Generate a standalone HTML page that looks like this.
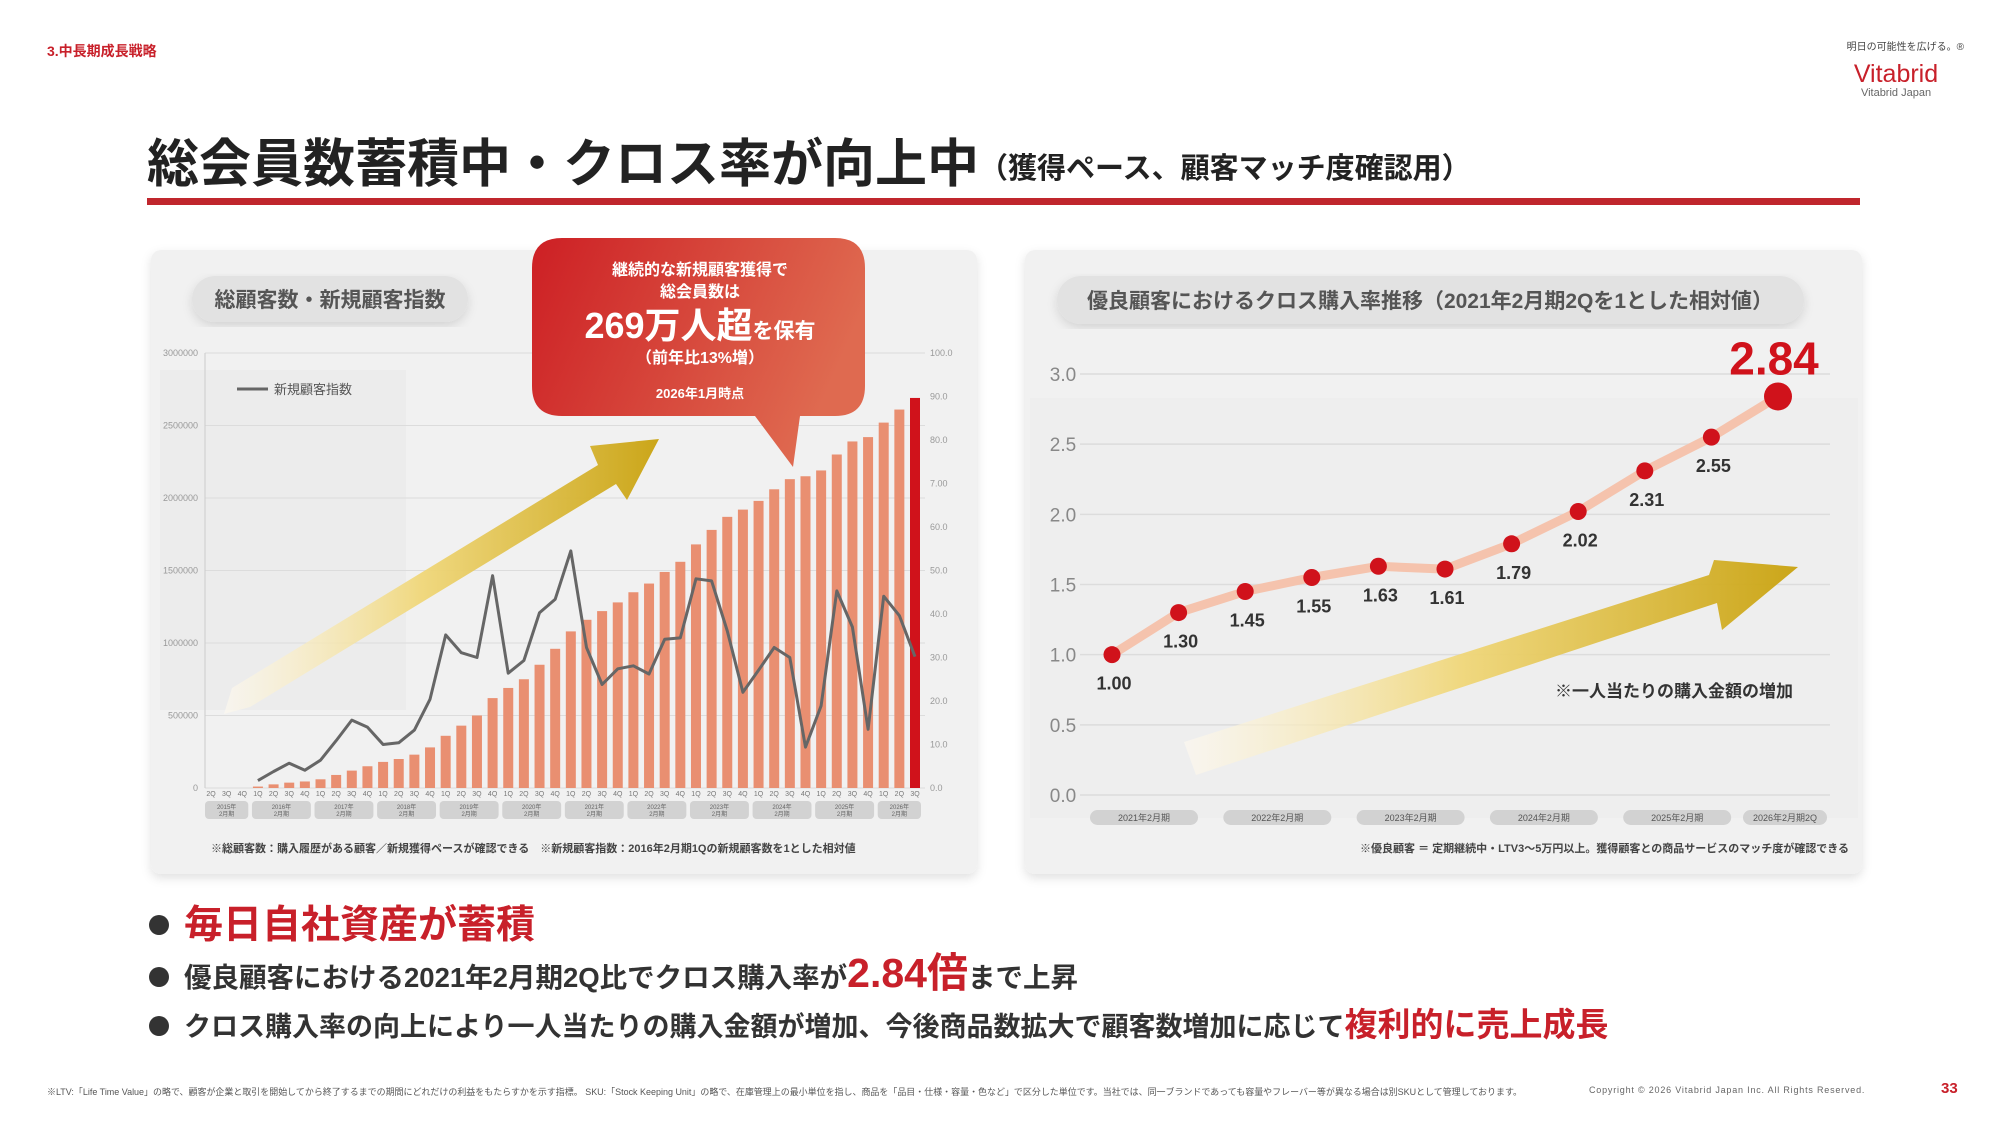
<!DOCTYPE html>
<html><head><meta charset="utf-8">
<style>
html,body{margin:0;padding:0;background:#fff;}
body{width:2000px;height:1138px;overflow:hidden;position:relative;font-family:"Liberation Sans","Noto Sans CJK JP",sans-serif;}
svg text{font-family:"Liberation Sans","Noto Sans CJK JP",sans-serif;}
</style></head>
<body>
<svg id="page" width="2000" height="1138" viewBox="0 0 2000 1138" xmlns="http://www.w3.org/2000/svg">
<defs>
<linearGradient id="gold" x1="0" y1="0" x2="1" y2="0">
<stop offset="0" stop-color="#fffaf0" stop-opacity="0.6"/>
<stop offset="0.45" stop-color="#f0d77a"/>
<stop offset="1" stop-color="#c9a20e"/>
</linearGradient>
<linearGradient id="bubble" x1="0" y1="0" x2="1" y2="0.3">
<stop offset="0" stop-color="#cd1f24"/>
<stop offset="1" stop-color="#df6a50"/>
</linearGradient>
<filter id="sh" x="-5%" y="-5%" width="110%" height="115%"><feDropShadow dx="0" dy="4" stdDeviation="5" flood-color="#000" flood-opacity="0.12"/></filter>
</defs>

<text x="47" y="56" font-size="14" font-weight="bold" fill="#c8202a">3.中長期成長戦略</text>
<g>
<text x="1964" y="50" font-size="10" fill="#444" text-anchor="end">明日の可能性を広げる。®</text>
<text x="1896" y="82" font-size="25" fill="#c8202a" text-anchor="middle">Vitabrid</text>
<text x="1896" y="96" font-size="11" fill="#666" text-anchor="middle">Vitabrid Japan</text>
</g>

<text x="147" y="182" font-size="52" font-weight="bold" fill="#222">総会員数蓄積中・クロス率が向上中<tspan font-size="29" dy="-4">（獲得ペース、顧客マッチ度確認用）</tspan></text>
<rect x="147" y="198" width="1713" height="7" fill="#c0262d"/>

<!-- Left panel -->
<rect x="151" y="250" width="826" height="624" rx="10" fill="#f1f1f1" filter="url(#sh)"/>
<rect x="160" y="370" width="246" height="340" fill="#e9e9e9" opacity="0.7"/>
<rect x="192" y="276" width="276" height="46" rx="23" fill="#e2e2e2" filter="url(#sh)"/>
<text x="330" y="307" font-size="21" font-weight="bold" fill="#555" text-anchor="middle">総顧客数・新規顧客指数</text>
<g id="leftChart"></g>

<!-- Bubble -->
<g>
<path d="M562,238 H835 Q865,238 865,268 V386 Q865,416 835,416 H800 L793,467 L755,416 H562 Q532,416 532,386 V268 Q532,238 562,238 Z" fill="url(#bubble)"/>
<text x="700" y="275" font-size="16" font-weight="bold" fill="#fff" text-anchor="middle">継続的な新規顧客獲得で</text>
<text x="700" y="297" font-size="16" font-weight="bold" fill="#fff" text-anchor="middle">総会員数は</text>
<text x="700" y="338" font-size="36" font-weight="bold" fill="#fff" text-anchor="middle">269万人超<tspan font-size="21">を保有</tspan></text>
<text x="700" y="363" font-size="16" font-weight="bold" fill="#fff" text-anchor="middle">（前年比13%増）</text>
<text x="700" y="398" font-size="13" font-weight="bold" fill="#fff" text-anchor="middle">2026年1月時点</text>
</g>

<!-- Right panel -->
<rect x="1025" y="250" width="837" height="624" rx="10" fill="#f1f1f1" filter="url(#sh)"/>
<rect x="1030" y="398" width="828" height="420" fill="#ececec" opacity="0.6"/>
<rect x="1057" y="276" width="747" height="48" rx="24" fill="#e2e2e2" filter="url(#sh)"/>
<text x="1430" y="308" font-size="21" font-weight="bold" fill="#555" text-anchor="middle">優良顧客におけるクロス購入率推移（2021年2月期2Qを1とした相対値）</text>
<g id="rightChart"></g>

<!-- Bullets -->
<g>
<circle cx="159" cy="925" r="10" fill="#333"/>
<text x="184" y="938" font-size="39" font-weight="bold" fill="#c8202a">毎日自社資産が蓄積</text>
<circle cx="159" cy="977" r="10" fill="#333"/>
<text x="184" y="987" font-size="27.5" font-weight="bold" fill="#333">優良顧客における2021年2月期2Q比でクロス購入率が<tspan font-size="41" fill="#c8202a">2.84倍</tspan>まで上昇</text>
<circle cx="159" cy="1026" r="10" fill="#333"/>
<text x="184" y="1036" font-size="27" font-weight="bold" fill="#333">クロス購入率の向上により一人当たりの購入金額が増加、今後商品数拡大で顧客数増加に応じて<tspan font-size="33" fill="#c8202a">複利的に売上成長</tspan></text>
</g>

<text x="47" y="1095" font-size="9" fill="#555" textLength="1475" lengthAdjust="spacingAndGlyphs">※LTV:「Life Time Value」の略で、顧客が企業と取引を開始してから終了するまでの期間にどれだけの利益をもたらすかを示す指標。 SKU:「Stock Keeping Unit」の略で、在庫管理上の最小単位を指し、商品を「品目・仕様・容量・色など」で区分した単位です。当社では、同一ブランドであっても容量やフレーバー等が異なる場合は別SKUとして管理しております。</text>
<text x="1589" y="1093" font-size="9" fill="#666" letter-spacing="0.8">Copyright © 2026 Vitabrid Japan Inc. All Rights Reserved.</text>
<text x="1941" y="1093" font-size="15" font-weight="bold" fill="#c8202a">33</text>
</svg>

<script>
// ---- Left chart data ----
const quarters = ["2Q","3Q","4Q","1Q","2Q","3Q","4Q","1Q","2Q","3Q","4Q","1Q","2Q","3Q","4Q","1Q","2Q","3Q","4Q","1Q","2Q","3Q","4Q","1Q","2Q","3Q","4Q","1Q","2Q","3Q","4Q","1Q","2Q","3Q","4Q","1Q","2Q","3Q","4Q","1Q","2Q","3Q","4Q","1Q","2Q","3Q"];
const fiscalYears = ["2015年","2016年","2017年","2018年","2019年","2020年","2021年","2022年","2023年","2024年","2025年","2026年"];
const yearSpans = [3,4,4,4,4,4,4,4,4,4,4,3];
const totalCustomers = [0,0,0,10000,25000,37000,45000,60000,90000,120000,150000,180000,200000,230000,280000,360000,430000,500000,620000,690000,750000,850000,960000,1080000,1160000,1220000,1280000,1350000,1410000,1490000,1560000,1680000,1780000,1870000,1920000,1980000,2060000,2130000,2150000,2190000,2300000,2390000,2420000,2520000,2610000,2690000];
const newIndex = [null,null,null,1.7,3.8,5.7,4.1,6.4,10.9,15.6,14.0,10.0,10.4,13.3,20.4,35.2,31.1,30.0,48.8,26.4,29.3,40.3,43.4,54.5,32.3,23.8,27.4,28.1,26.2,34.2,34.5,48.1,47.6,36.1,22.0,27.1,32.3,30.0,9.4,18.9,45.3,37.0,13.5,44.1,39.6,30.2];
const leftTicks = ["0","500000","1000000","1500000","2000000","2500000","3000000"];
const rightTicks = ["0.0","10.0","20.0","30.0","40.0","50.0","60.0","7.00","80.0","90.0","100.0"];

// ---- Right chart data ----
const crossValues = [1.00,1.30,1.45,1.55,1.63,1.61,1.79,2.02,2.31,2.55,2.84];
const crossYTicks = ["0.0","0.5","1.0","1.5","2.0","2.5","3.0"];
const crossYears = ["2021年2月期","2022年2月期","2023年2月期","2024年2月期","2025年2月期","2026年2月期2Q"];

const NS="http://www.w3.org/2000/svg";
function mk(parent,tag,attrs,txt){const e=document.createElementNS(NS,tag);for(const k in attrs)e.setAttribute(k,attrs[k]);if(txt!==undefined)e.textContent=txt;parent.appendChild(e);return e;}

// Left chart
(function(){
const g=document.getElementById('leftChart');
const x0=211, dx=(915-211)/(quarters.length-1);
const yTop=353, yBot=788;
const xs=i=>x0+i*dx;
const yL=v=>yBot-(v/3000000)*(yBot-yTop);
const yR=v=>yBot-(v/100)*(yBot-yTop);
leftTicks.forEach((t,i)=>{
  const v=i*500000;
  const ln=mk(g,'line',{x1:205,x2:925,y1:yL(v),y2:yL(v),stroke:'#dcdcdc','stroke-width':1});
  
  
  const tx=mk(g,'text',{x:198,y:yL(v)+3,'font-size':9,fill:'#999','text-anchor':'end'},t);
  
  
});
mk(g,'line',{x1:205,x2:205,y1:yTop,y2:yBot,stroke:'#ccc','stroke-width':1});
rightTicks.forEach((t,i)=>{
  const tx=mk(g,'text',{x:930,y:yR(i*10)+3,'font-size':9,fill:'#999'},t);
  
  
});
const ar=mk(g,'path',{d:'M224,714 L232,688 L598,465 L590,446 L659,439 L627,500 L616,484 L250,707 Z',fill:'url(#gold)',opacity:0.95});


totalCustomers.forEach((v,i)=>{
  const last=i===totalCustomers.length-1;
  const r=mk(g,'rect',{x:xs(i)-5,y:yL(v),width:10,height:yBot-yL(v),fill:last?'#d0121b':'#e98f71'});
  
  
  const q=mk(g,'text',{x:xs(i),y:796,'font-size':7,fill:'#777','text-anchor':'middle'},quarters[i]);
  
  
});
let pts=[];
newIndex.forEach((v,i)=>{if(v!==null)pts.push(xs(i).toFixed(1)+','+yR(v).toFixed(1));});
const pl=mk(g,'polyline',{points:pts.join(' '),fill:'none',stroke:'#666','stroke-width':3,'stroke-linejoin':'round'});


let idx=0;
fiscalYears.forEach((y,k)=>{
  const a=xs(idx)-6, b=xs(idx+yearSpans[k]-1)+6;
  const p=mk(g,'rect',{x:a,y:801,width:b-a,height:18,rx:4,fill:'#d2d2d2'});
  
  
  mk(g,'text',{x:(a+b)/2,y:809,'font-size':6,fill:'#666','text-anchor':'middle'},y);
  mk(g,'text',{x:(a+b)/2,y:816,'font-size':6,fill:'#666','text-anchor':'middle'},'2月期');
  idx+=yearSpans[k];
});
const lg=mk(g,'line',{x1:237,x2:268,y1:389,y2:389,stroke:'#666','stroke-width':3});


const lt=mk(g,'text',{x:274,y:394,'font-size':13,fill:'#555'},'新規顧客指数');


const nt=mk(g,'text',{x:211,y:852,'font-size':11,fill:'#444','font-weight':'bold'},'※総顧客数：購入履歴がある顧客／新規獲得ペースが確認できる　※新規顧客指数：2016年2月期1Qの新規顧客数を1とした相対値');


})();

// Right chart
(function(){
const g=document.getElementById('rightChart');
const x0=1112, dx=(1778-1112)/(crossValues.length-1);
const xs=i=>x0+i*dx;
const ys=v=>795-(v/3)*(795-374);
crossYTicks.forEach((t,i)=>{
  const v=i*0.5;
  const ln=mk(g,'line',{x1:1080,x2:1830,y1:ys(v),y2:ys(v),stroke:'#dcdcdc','stroke-width':1.5});
  
  
  const tx=mk(g,'text',{x:1063,y:ys(v)+7,'font-size':19,fill:'#888','text-anchor':'middle'},t);
  
  
});
const ar=mk(g,'path',{d:'M1184,742 L1196,775 L1717,603 L1722,630 L1798,567 L1714,560 L1709,575 Z',fill:'url(#gold)',opacity:0.95});


const note=mk(g,'text',{x:1555,y:697,'font-size':17,'font-weight':'bold',fill:'#333'},'※一人当たりの購入金額の増加');


const pl=mk(g,'polyline',{points:crossValues.map((v,i)=>xs(i).toFixed(1)+','+ys(v).toFixed(1)).join(' '),fill:'none',stroke:'#f5c3ad','stroke-width':9,'stroke-linejoin':'round'});


crossValues.forEach((v,i)=>{
  const last=i===crossValues.length-1;
  const c=mk(g,'circle',{cx:xs(i),cy:ys(v),r:last?14:8.5,fill:'#d0121b'});
  
  
  let t;
  if(last){
    t=mk(g,'text',{x:xs(i)-4,y:ys(v)-22,'font-size':46,'font-weight':'bold',fill:'#d0121b','text-anchor':'middle'},v.toFixed(2));
  } else {
    t=mk(g,'text',{x:xs(i)+2,y:ys(v)+35,'font-size':18,'font-weight':'bold',fill:'#333','text-anchor':'middle'},v.toFixed(2));
  }
  
  
});
crossYears.forEach((y,k)=>{
  const cx=k<5?1144+k*133.3:1785;
  const w=k<5?108:84;
  const p=mk(g,'rect',{x:cx-w/2,y:810,width:w,height:15,rx:7.5,fill:'#d2d2d2'});
  
  
  mk(g,'text',{x:cx,y:821,'font-size':9,fill:'#555','text-anchor':'middle'},y);
});
const nt=mk(g,'text',{x:1849,y:852,'font-size':11,fill:'#444','font-weight':'bold','text-anchor':'end'},'※優良顧客 ＝ 定期継続中・LTV3～5万円以上。獲得顧客との商品サービスのマッチ度が確認できる');


})();
</script>
</body></html>
